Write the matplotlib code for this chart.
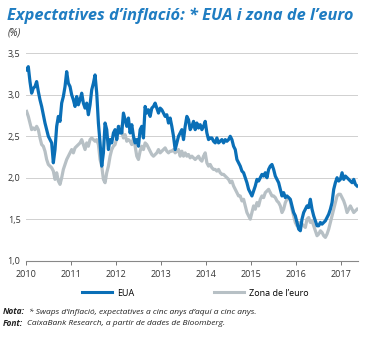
import numpy as np
import pandas as pd
import matplotlib
matplotlib.use("Agg")
import matplotlib.pyplot as plt

# Inflation expectations 5y5y, read roughly every two weeks from the chart
eua = [3.30, 3.34, 3.16, 3.02, 3.08, 3.10, 3.16, 3.04, 2.94, 2.86, 2.76, 2.66, 2.58, 2.50, 2.46, 2.42,
       2.18, 2.34, 2.62, 2.74, 2.68, 2.90, 2.98, 3.10, 3.28, 3.14, 3.10, 3.00, 2.94, 2.86, 2.98, 2.88,
       2.94, 3.02, 2.90, 2.84, 2.90, 2.76, 2.88, 3.06, 3.14, 3.24, 3.02, 2.66, 2.42, 2.14, 2.30, 2.66,
       2.58, 2.34, 2.46, 2.42, 2.54, 2.58, 2.46, 2.62, 2.54, 2.54, 2.78, 2.70, 2.62, 2.72, 2.54, 2.64,
       2.50, 2.42, 2.46, 2.38, 2.58, 2.62, 2.48, 2.86, 2.78, 2.82, 2.74, 2.84, 2.86, 2.90, 2.84, 2.78,
       2.84, 2.82, 2.78, 2.74, 2.76, 2.66, 2.72, 2.62, 2.50, 2.34, 2.42, 2.50, 2.54, 2.58,
       2.46, 2.62, 2.74, 2.70, 2.58, 2.62, 2.68, 2.58, 2.66, 2.60, 2.64, 2.58, 2.62, 2.68, 2.54, 2.46,
       2.48, 2.48, 2.44, 2.42, 2.48, 2.42, 2.44, 2.46, 2.42, 2.46, 2.44, 2.46, 2.50, 2.46, 2.38, 2.34,
       2.22, 2.18, 2.14, 2.08, 2.06, 2.00, 1.94, 1.86, 1.82, 1.78, 1.84, 1.90, 1.98, 1.96, 2.00, 2.04,
       2.02, 2.06, 2.00, 2.10, 2.14, 2.16, 2.10, 2.02, 1.98, 1.94, 1.86, 1.78, 1.82, 1.76, 1.78, 1.76,
       1.74, 1.66, 1.58, 1.54, 1.46, 1.38, 1.36, 1.50, 1.58, 1.62, 1.66, 1.64, 1.74, 1.62, 1.54, 1.48,
       1.42, 1.42, 1.46, 1.44, 1.46, 1.48, 1.52, 1.56, 1.62, 1.70, 1.86, 1.94, 2.00, 1.96, 1.98, 2.06,
       1.98, 2.02, 2.00, 1.98, 1.96, 1.94, 1.98, 1.92, 1.90]
euro = [2.80, 2.74, 2.66, 2.58, 2.60, 2.58, 2.62, 2.58, 2.48, 2.40, 2.38, 2.32, 2.22, 2.16, 2.14, 2.12,
        2.08, 1.98, 2.06, 1.96, 1.92, 2.00, 2.10, 2.16, 2.22, 2.26, 2.30, 2.34, 2.30, 2.36, 2.38, 2.40,
        2.42, 2.46, 2.40, 2.34, 2.42, 2.38, 2.46, 2.48, 2.46, 2.44, 2.46, 2.40, 2.22, 2.14, 1.98, 1.94,
        2.06, 2.14, 2.26, 2.34, 2.38, 2.40, 2.48, 2.56, 2.62, 2.56, 2.48, 2.52, 2.44, 2.46, 2.44, 2.40,
        2.48, 2.38, 2.26, 2.22, 2.32, 2.38, 2.34, 2.42, 2.40, 2.36, 2.32, 2.28, 2.26, 2.28, 2.30, 2.34,
        2.30, 2.32, 2.34, 2.36, 2.32, 2.30, 2.32, 2.32, 2.34, 2.30, 2.32, 2.34, 2.26, 2.32,
        2.26, 2.30, 2.26, 2.28, 2.24, 2.26, 2.24, 2.22, 2.24, 2.26, 2.22, 2.20, 2.26, 2.30, 2.18, 2.14,
        2.16, 2.12, 2.10, 2.10, 2.08, 2.10, 2.06, 2.04, 2.04, 2.02, 2.00, 1.98, 1.94, 1.96, 1.90, 1.86,
        1.82, 1.78, 1.78, 1.72, 1.74, 1.66, 1.58, 1.54, 1.50, 1.58, 1.66, 1.62, 1.70, 1.66, 1.74, 1.78,
        1.76, 1.82, 1.84, 1.86, 1.82, 1.78, 1.78, 1.76, 1.72, 1.70, 1.66, 1.58, 1.62, 1.70, 1.74, 1.76,
        1.72, 1.62, 1.54, 1.46, 1.42, 1.46, 1.42, 1.44, 1.42, 1.40, 1.50, 1.52, 1.46, 1.48, 1.42, 1.36,
        1.30, 1.32, 1.36, 1.34, 1.30, 1.28, 1.32, 1.38, 1.46, 1.54, 1.62, 1.70, 1.78, 1.80, 1.80, 1.76,
        1.72, 1.66, 1.58, 1.62, 1.66, 1.62, 1.58, 1.60, 1.62]
dates = pd.date_range("2010-01-06", "2017-05-12", periods=len(eua))

years = ["2010", "2011", "2012", "2013", "2014", "2015", "2016", "2017"]
yticks = [1.0, 1.5, 2.0, 2.5, 3.0, 3.5]

blue = "#0a6fb7"
grey = "#b7c0c5"
title_blue = "#1f7dc2"

plt.rcParams["font.family"] = ["Open Sans", "DejaVu Sans"]

fig = plt.figure(figsize=(3.68, 3.38), dpi=100)
ax = fig.add_axes([0.0707, 0.229, 0.9023, 0.613])

ax.plot(dates, euro, color=grey, lw=2.3, solid_joinstyle="round")
ax.plot(dates, eua, color=blue, lw=2.3, solid_joinstyle="round")

ax.set_ylim(1.0, 3.5)
ax.set_xlim(pd.Timestamp("2010-01-01"), pd.Timestamp("2017-05-20"))
ax.set_yticks(yticks)
ax.set_yticklabels([f"{v:.1f}".replace(".", ",") for v in yticks], fontsize=6.5, color="#333333")
ax.set_xticks([pd.Timestamp(f"{y}-01-01") for y in years])
ax.set_xticklabels(years, fontsize=6.5, color="#333333")
ax.tick_params(axis="y", length=0, pad=4)
ax.tick_params(axis="x", length=3, color="#777777", width=0.7, pad=4)
ax.grid(axis="y", color="#d0d0d0", lw=0.7)
ax.set_axisbelow(True)
for s in ["top", "right", "left"]:
    ax.spines[s].set_visible(False)
ax.spines["bottom"].set_color("#888888")
ax.spines["bottom"].set_linewidth(0.8)

fig.text(0.02, 0.952, "Expectatives d\u2019inflaci\u00f3: * EUA i zona de l\u2019euro", fontsize=11.8,
         fontweight="bold", style="italic", color=title_blue, va="center")
fig.text(0.02, 0.902, "(%)", fontsize=7, style="italic", color="#333333", va="center")

handles = [plt.Line2D([], [], color=blue, lw=2.2), plt.Line2D([], [], color=grey, lw=2.2)]
fig.legend(handles, ["EUA", "Zona de l\u2019euro"], loc="center", bbox_to_anchor=(0.531, 0.133), ncol=2,
           frameon=False, fontsize=6.5, handlelength=3.3, columnspacing=8.8, handletextpad=0.6)

fig.text(0.008, 0.077, "Nota:", fontsize=6, fontweight="bold", style="italic", color="#222222", va="center")
fig.text(0.078, 0.077, "* Swaps d\u2019inflaci\u00f3, expectatives a cinc anys d\u2019aqu\u00ed a cinc anys.",
         fontsize=6, style="italic", color="#222222", va="center")
fig.text(0.008, 0.044, "Font:", fontsize=6, fontweight="bold", style="italic", color="#222222", va="center")
fig.text(0.073, 0.044, "CaixaBank Research, a partir de dades de Bloomberg.",
         fontsize=6, style="italic", color="#222222", va="center")

fig.savefig("out.png", dpi=100)
